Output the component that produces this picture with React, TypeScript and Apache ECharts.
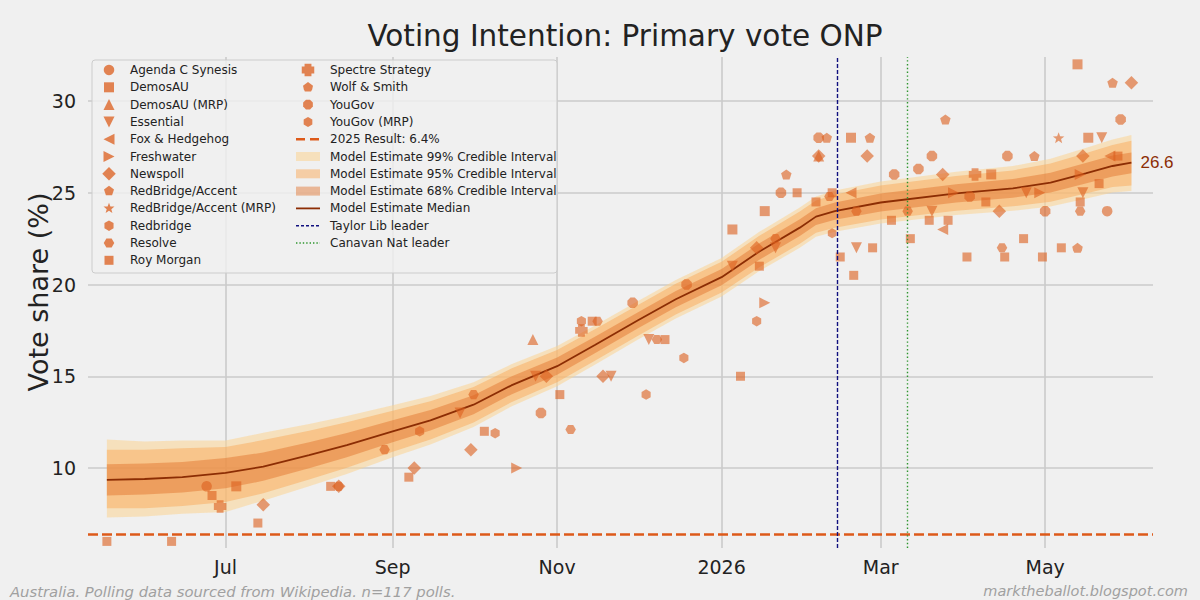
import React, { useEffect, useRef } from 'react';
import * as echarts from 'echarts';

// ---------- axis ticks ----------
const TICK_DATES = ['2025-07-01', '2025-09-01', '2025-11-01', '2026-01-01', '2026-03-01', '2026-05-01'];
const Y_TICKS = [10, 15, 20, 25, 30];
const X_MIN = '2025-05-11';
const X_MAX = '2026-06-10';
const Y_MIN = 5.64;
const Y_MAX = 32.4;

// ---------- model ----------
const modelDates = ['2025-05-18', '2025-06-01', '2025-06-15', '2025-07-01', '2025-07-15', '2025-08-01', '2025-08-15', '2025-09-01', '2025-09-15', '2025-10-01', '2025-10-15', '2025-11-01', '2025-11-15', '2025-12-01', '2025-12-15', '2026-01-01', '2026-01-15', '2026-01-30', '2026-02-05', '2026-02-12', '2026-03-01', '2026-03-29', '2026-04-19', '2026-05-03', '2026-05-16', '2026-05-26', '2026-06-02'];
const modelMedian = [9.35, 9.4, 9.5, 9.74, 10.07, 10.7, 11.25, 12.0, 12.6, 13.45, 14.5, 15.55, 16.7, 18.05, 19.2, 20.4, 21.8, 23.1, 23.7, 24.0, 24.47, 24.97, 25.24, 25.55, 26.06, 26.46, 26.64];
const modelLo99 = [7.3, 7.35, 7.5, 7.6, 8.22, 9.0, 9.67, 10.58, 11.28, 12.23, 13.35, 14.45, 15.63, 17.0, 18.15, 19.35, 20.73, 22.0, 22.6, 22.88, 23.32, 23.79, 24.02, 24.25, 24.68, 25.01, 25.1];
const modelLo95 = [7.8, 7.8, 7.93, 8.15, 8.62, 9.37, 10.01, 10.88, 11.56, 12.48, 13.58, 14.67, 15.84, 17.21, 18.36, 19.56, 20.94, 22.22, 22.82, 23.1, 23.54, 24.02, 24.26, 24.51, 24.96, 25.31, 25.4];
const modelLo68 = [8.5, 8.55, 8.67, 8.9, 9.3, 9.99, 10.59, 11.4, 12.04, 12.93, 14.01, 15.08, 16.25, 17.61, 18.76, 19.96, 21.35, 22.64, 23.24, 23.53, 23.98, 24.47, 24.73, 25.01, 25.5, 25.89, 26.06];
const modelHi68 = [10.2, 10.25, 10.33, 10.55, 10.84, 11.41, 11.91, 12.6, 13.16, 13.97, 14.99, 16.02, 17.15, 18.49, 19.64, 20.84, 22.25, 23.56, 24.16, 24.47, 24.96, 25.47, 25.75, 26.09, 26.62, 27.03, 27.2];
const modelHi95 = [11.0, 11.0, 11.07, 11.15, 11.52, 12.03, 12.49, 13.12, 13.64, 14.42, 15.42, 16.43, 17.56, 18.89, 20.04, 21.24, 22.66, 23.98, 24.58, 24.9, 25.4, 25.92, 26.22, 26.59, 27.16, 27.61, 27.84];
const modelHi99 = [11.55, 11.45, 11.5, 11.5, 11.92, 12.4, 12.83, 13.42, 13.92, 14.67, 15.65, 16.65, 17.77, 19.1, 20.25, 21.45, 22.87, 24.2, 24.8, 25.12, 25.62, 26.15, 26.46, 26.85, 27.44, 27.91, 28.15];

// ---------- reference lines ----------
const RESULT_2025 = 6.4;
const TAYLOR_DATE = '2026-02-13';
const CANAVAN_DATE = '2026-03-11';

// ---------- polls ----------
const agendaC = [['2025-06-24', 9.0], ['2026-05-24', 24.0]];
const demosAU = [['2025-07-05', 9.0], ['2026-01-05', 23.0], ['2026-01-17', 24.0], ['2026-02-18', 28.0], ['2026-04-11', 26.0], ['2026-05-13', 32.0], ['2026-05-17', 28.0]];
const demosAUMRP = [['2025-10-23', 17.0], ['2026-02-06', 27.0]];
const essential = [['2025-09-26', 13], ['2025-10-24', 15], ['2025-11-21', 15], ['2025-12-05', 17], ['2026-01-05', 21], ['2026-01-21', 22], ['2026-02-20', 22], ['2026-03-20', 24], ['2026-04-24', 25], ['2026-05-15', 25], ['2026-05-22', 28]];
const foxHedgehog = [['2026-02-18', 25], ['2026-03-24', 23], ['2026-05-25', 27]];
const freshwater = [['2025-10-17', 10], ['2026-01-17', 19], ['2026-03-28', 25], ['2026-04-29', 25], ['2026-05-14', 26]];
const newspoll = [['2025-07-15', 8], ['2025-08-12', 9], ['2025-09-09', 10], ['2025-09-30', 11], ['2025-10-28', 15], ['2025-11-18', 15], ['2026-01-14', 22], ['2026-02-06', 27], ['2026-02-24', 27], ['2026-03-24', 26], ['2026-04-14', 24], ['2026-05-15', 27], ['2026-06-02', 31]];
const redbridgeAccent = [['2026-01-25', 26], ['2026-02-09', 28], ['2026-02-25', 28], ['2026-03-25', 29], ['2026-04-27', 27], ['2026-05-26', 31]];
const redbridgeAccentMRP = [['2026-05-06', 28]];
const redbridge = [['2025-09-11', 12], ['2025-10-09', 11.9], ['2025-11-10', 18], ['2025-12-04', 14], ['2025-12-18', 16], ['2026-01-14', 18]];
const resolve = [['2025-08-12', 9], ['2025-08-29', 11], ['2025-10-01', 14], ['2025-11-06', 12.1], ['2025-11-16', 18], ['2025-12-08', 17], ['2026-01-21', 22.5], ['2026-02-10', 24.8], ['2026-02-20', 24], ['2026-03-11', 24], ['2026-04-15', 22], ['2026-05-14', 24]];
const royMorgan = [['2025-05-18', 6], ['2025-06-11', 6], ['2025-06-26', 8.5], ['2025-07-13', 7], ['2025-08-09', 9], ['2025-09-07', 9.5], ['2025-10-05', 12], ['2025-11-02', 14], ['2025-11-14', 18], ['2025-12-11', 17], ['2026-01-08', 15], ['2026-01-15', 21], ['2026-01-29', 25], ['2026-02-05', 24.5], ['2026-02-11', 25], ['2026-02-14', 21.5], ['2026-02-19', 20.5], ['2026-02-26', 22], ['2026-03-05', 23.5], ['2026-03-12', 22.5], ['2026-03-19', 23.5], ['2026-03-26', 23.5], ['2026-04-02', 21.5], ['2026-04-09', 24.5], ['2026-04-16', 21.5], ['2026-04-23', 22.5], ['2026-04-30', 21.5], ['2026-05-07', 22], ['2026-05-14', 24.5], ['2026-05-21', 25.5], ['2026-05-28', 27]];
const spectre = [['2025-06-29', 7.9], ['2025-11-10', 17.5], ['2026-04-05', 26]];
const wolfSmith = [['2026-05-13', 22]];
const yougov = [['2025-10-26', 13], ['2025-11-29', 19], ['2025-12-19', 20], ['2026-01-23', 25], ['2026-02-06', 28], ['2026-03-06', 26], ['2026-03-15', 26.3], ['2026-03-20', 27], ['2026-04-03', 24.8], ['2026-04-17', 27], ['2026-05-01', 24], ['2026-05-29', 29]];
const yougovMRP = [['2026-02-11', 22.8]];

// ---------- marker geometry ----------
type Pt = [number, number];
const regular = (n: number, startDeg: number): Pt[] =>
  Array.from({ length: n }, (_, k) => {
    const a = ((startDeg + (360 * k) / n) * Math.PI) / 180;
    return [Math.cos(a), Math.sin(a)] as Pt;
  });
const starPts = (): Pt[] =>
  Array.from({ length: 10 }, (_, k) => {
    const a = ((-90 + 36 * k) * Math.PI) / 180;
    const r = k % 2 === 0 ? 1 : 0.42;
    return [r * Math.cos(a), r * Math.sin(a)] as Pt;
  });
const w = 0.55;
const SHAPES: Record<string, Pt[] | null> = {
  circle: null,
  square: [[-1, -1], [1, -1], [1, 1], [-1, 1]],
  triUp: [[0, -1], [1, 1], [-1, 1]],
  triDown: [[-1, -1], [1, -1], [0, 1]],
  triLeft: [[-1, 0], [1, -1], [1, 1]],
  triRight: [[1, 0], [-1, -1], [-1, 1]],
  diamond: [[0, -1], [1, 0], [0, 1], [-1, 0]],
  pentagon: regular(5, -90),
  star: starPts(),
  hexPointy: regular(6, -90),
  hexFlat: regular(6, 0),
  octagon: regular(8, 22.5),
  heptagon: [[0, -1], [0.95, -0.31], [0.8, 0.35], [0.59, 0.81], [-0.59, 0.81], [-0.8, 0.35], [-0.95, -0.31]],
  plusFat: [[-w, -1], [w, -1], [w, -w], [1, -w], [1, w], [w, w], [w, 1], [-w, 1], [-w, w], [-1, w], [-1, -w], [-w, -w]],
};
const symbolOf = (shape: string) => {
  const pts = SHAPES[shape];
  if (!pts) return 'circle';
  return 'path://M' + pts.map((p) => `${(p[0] * 50 + 50).toFixed(2)} ${(p[1] * 50 + 50).toFixed(2)}`).join(' L') + ' Z';
};

const MARKER = 'rgba(220,95,30,0.76)';
const C99 = 'rgba(252,212,145,0.55)';
const C95 = 'rgba(250,170,90,0.5)';
const C68 = 'rgba(225,110,40,0.45)';
const MEDIAN = '#8c2d04';
const RESULT_COLOR = '#dd5a1a';
const TAYLOR_COLOR = '#10107f';
const CANAVAN_COLOR = '#2e952e';
const FONT = '"DejaVu Sans", sans-serif';

const POLLSTERS = [
  { name: 'Agenda C Synesis', data: agendaC, shape: 'circle', size: 10.5 },
  { name: 'DemosAU', data: demosAU, shape: 'square', size: 10 },
  { name: 'DemosAU (MRP)', data: demosAUMRP, shape: 'triUp', size: 11 },
  { name: 'Essential', data: essential, shape: 'triDown', size: 11 },
  { name: 'Fox & Hedgehog', data: foxHedgehog, shape: 'triLeft', size: 11 },
  { name: 'Freshwater', data: freshwater, shape: 'triRight', size: 11 },
  { name: 'Newspoll', data: newspoll, shape: 'diamond', size: 13.5 },
  { name: 'RedBridge/Accent', data: redbridgeAccent, shape: 'pentagon', size: 10.5 },
  { name: 'RedBridge/Accent (MRP)', data: redbridgeAccentMRP, shape: 'star', size: 11.5 },
  { name: 'Redbridge', data: redbridge, shape: 'hexPointy', size: 10.5 },
  { name: 'Resolve', data: resolve, shape: 'hexFlat', size: 10.5 },
  { name: 'Roy Morgan', data: royMorgan, shape: 'square', size: 9 },
  { name: 'Spectre Strategy', data: spectre, shape: 'plusFat', size: 12.5 },
  { name: 'Wolf & Smith', data: wolfSmith, shape: 'heptagon', size: 10.5 },
  { name: 'YouGov', data: yougov, shape: 'octagon', size: 10.5 },
  { name: 'YouGov (MRP)', data: yougovMRP, shape: 'hexPointy', size: 10 },
];

const ts = (s: string) => {
  const [y, m, d] = s.split('-').map(Number);
  return new Date(y, m - 1, d).getTime();
};
const MONTHS = ['Jan', 'Feb', 'Mar', 'Apr', 'May', 'Jun', 'Jul', 'Aug', 'Sep', 'Oct', 'Nov', 'Dec'];

function buildLegend() {
  const els: any[] = [];
  const rowY = (i: number) => 70 + 17.3 * i;
  els.push({
    type: 'rect', z: 100,
    shape: { x: 92, y: 60, width: 465, height: 213, r: 3 },
    style: { fill: 'rgba(240,240,240,0.8)', stroke: '#cccccc', lineWidth: 1 },
  });
  const text = (x: number, y: number, t: string) => ({
    type: 'text', z: 101, x, y,
    style: { text: t, fill: '#222', fontSize: 12, fontFamily: FONT, verticalAlign: 'middle', align: 'left' },
  });
  const marker = (cx: number, cy: number, shape: string, size: number) => {
    const pts = SHAPES[shape];
    const r = size / 2;
    if (!pts) {
      return { type: 'circle', z: 101, shape: { cx, cy, r }, style: { fill: MARKER } };
    }
    return { type: 'polygon', z: 101, shape: { points: pts.map((p) => [cx + p[0] * r, cy + p[1] * r]) }, style: { fill: MARKER } };
  };
  POLLSTERS.forEach((p, i) => {
    const col = i < 12 ? 0 : 1;
    const row = i < 12 ? i : i - 12;
    const mx = col === 0 ? 109 : 308;
    const tx = col === 0 ? 130 : 330;
    els.push(marker(mx, rowY(row), p.shape, p.size));
    els.push(text(tx, rowY(row), p.name));
  });
  const lineItem = (row: number, label: string, stroke: string, width: number, dash: number[] | null) => {
    els.push({
      type: 'line', z: 101,
      shape: { x1: 296, y1: rowY(row), x2: 320, y2: rowY(row) },
      style: dash ? { stroke, lineWidth: width, lineDash: dash } : { stroke, lineWidth: width },
    });
    els.push(text(330, rowY(row), label));
  };
  const swatch = (row: number, label: string, fill: string) => {
    els.push({ type: 'rect', z: 101, shape: { x: 296, y: rowY(row) - 4.5, width: 24, height: 9 }, style: { fill } });
    els.push(text(330, rowY(row), label));
  };
  lineItem(4, '2025 Result: 6.4%', RESULT_COLOR, 2.5, [9, 5]);
  swatch(5, 'Model Estimate 99% Credible Interval', C99);
  swatch(6, 'Model Estimate 95% Credible Interval', C95);
  swatch(7, 'Model Estimate 68% Credible Interval', C68);
  lineItem(8, 'Model Estimate Median', MEDIAN, 1.8, null);
  lineItem(9, 'Taylor Lib leader', TAYLOR_COLOR, 1.4, [3, 2]);
  lineItem(10, 'Canavan Nat leader', CANAVAN_COLOR, 1.4, [1.4, 2]);
  return els;
}

function bandSeries(lo: number[], hi: number[], color: string) {
  return {
    type: 'custom', silent: true, z: 1,
    data: modelDates.map((d, i) => [ts(d), lo[i], hi[i]]),
    encode: { x: 0, y: [1, 2] },
    renderItem: (params: any, api: any) => {
      if (params.dataIndex !== 0) return null;
      const upper = modelDates.map((d, i) => api.coord([ts(d), hi[i]]));
      const lower = modelDates.map((d, i) => api.coord([ts(d), lo[i]])).reverse();
      return { type: 'polygon', shape: { points: upper.concat(lower) }, style: { fill: color } };
    },
  };
}

export default function App() {
  const ref = useRef<HTMLDivElement>(null);
  useEffect(() => {
    if (!ref.current) return;
    const chart = echarts.init(ref.current, undefined, { renderer: 'svg' });
    const option: any = {
      animation: false,
      backgroundColor: '#f0f0f0',
      title: {
        text: 'Voting Intention: Primary vote ONP',
        left: 620, top: 16, textAlign: 'center',
        textStyle: { fontSize: 29.5, fontWeight: 'normal', color: '#222', fontFamily: FONT },
      },
      grid: { left: 88, right: 47, top: 57, bottom: 52, containLabel: false },
      xAxis: {
        type: 'value', min: ts(X_MIN), max: ts(X_MAX),
        axisLine: { show: false },
        axisTick: { show: false, customValues: TICK_DATES.map(ts) },
        axisLabel: {
          customValues: TICK_DATES.map(ts),
          fontSize: 19, color: '#222', fontFamily: FONT, margin: 9,
          formatter: (v: number) => {
            const d = new Date(v);
            return d.getMonth() === 0 ? String(d.getFullYear()) : MONTHS[d.getMonth()];
          },
        },
        splitLine: { show: true, lineStyle: { color: '#cbcbcb', width: 1.6 } },
      },
      yAxis: {
        type: 'value', min: Y_MIN, max: Y_MAX,
        axisLine: { show: false },
        axisTick: { show: false, customValues: Y_TICKS },
        axisLabel: { customValues: Y_TICKS, fontSize: 19, color: '#222', fontFamily: FONT, margin: 12 },
        splitLine: { show: true, lineStyle: { color: '#cbcbcb', width: 1.6 } },
      },
      graphic: [
        ...buildLegend(),
        {
          type: 'text', x: 38, y: 292, rotation: Math.PI / 2,
          style: { text: 'Vote share (%)', fill: '#222', fontSize: 27, fontFamily: FONT, align: 'center', verticalAlign: 'middle' },
        },
        {
          type: 'text', x: 10, y: 591,
          style: { text: 'Australia. Polling data sourced from Wikipedia. n=117 polls.', fill: '#a0a0a0', fontSize: 14.8, fontStyle: 'italic', fontFamily: FONT, align: 'left', verticalAlign: 'middle' },
        },
        {
          type: 'text', x: 1188, y: 591,
          style: { text: 'marktheballot.blogspot.com', fill: '#a0a0a0', fontSize: 14.5, fontStyle: 'italic', fontFamily: FONT, align: 'right', verticalAlign: 'middle' },
        },
      ],
      series: [
        bandSeries(modelLo99, modelHi99, C99),
        bandSeries(modelLo95, modelHi95, C95),
        bandSeries(modelLo68, modelHi68, C68),
        {
          type: 'line', name: 'Model Estimate Median', symbol: 'none', smooth: false, silent: true,
          lineStyle: { color: MEDIAN, width: 1.8 },
          data: modelDates.map((d, i) => [ts(d), modelMedian[i]]),
          z: 3,
          endLabel: {
            show: true, distance: 9, color: MEDIAN, fontSize: 17, fontFamily: '"Liberation Sans", Arial, sans-serif',
            formatter: (p: any) => Number(p.value[1]).toFixed(1),
          },
          markLine: {
            silent: true, symbol: ['none', 'none'], label: { show: false },
            data: [
              { yAxis: RESULT_2025, lineStyle: { color: RESULT_COLOR, width: 2.5, type: [10, 4] } },
              { xAxis: ts(TAYLOR_DATE), lineStyle: { color: TAYLOR_COLOR, width: 1.4, type: [4, 2] } },
              { xAxis: ts(CANAVAN_DATE), lineStyle: { color: CANAVAN_COLOR, width: 1.4, type: [1.4, 2.4] } },
            ],
          },
        },
        ...POLLSTERS.map((p) => ({
          type: 'scatter', name: p.name, silent: true,
          symbol: symbolOf(p.shape), symbolSize: p.size, symbolKeepAspect: true,
          itemStyle: { color: MARKER },
          data: p.data.map(([d, v]) => [ts(d as string), v]),
          z: 4,
        })),
      ],
    };
    chart.setOption(option);
    return () => chart.dispose();
  }, []);
  return <div ref={ref} style={{ position: 'fixed', left: 0, top: 0, width: 1200, height: 600 }} />;
}
